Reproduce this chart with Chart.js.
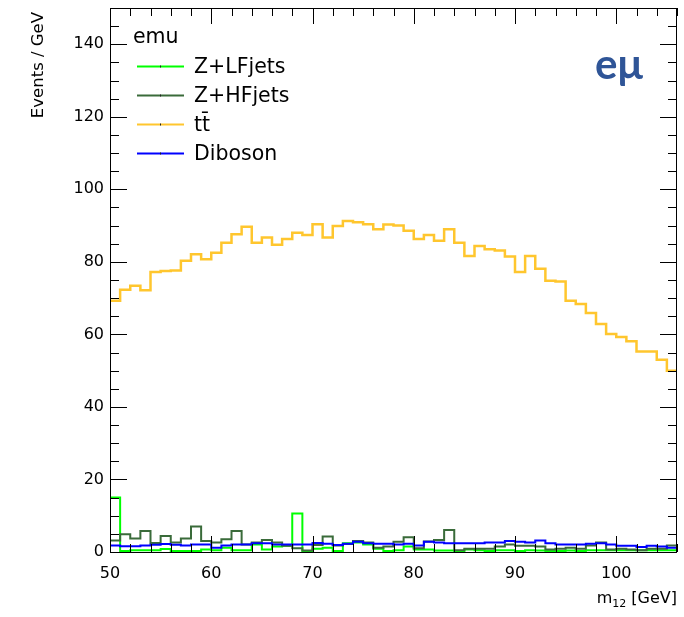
<!DOCTYPE html>
<html><head><meta charset="utf-8">
<script src="https://cdn.jsdelivr.net/npm/chart.js@4/dist/chart.umd.min.js"></script>
<style>html,body{margin:0;padding:0;background:#fff}#wrap{width:684px;height:617px;position:relative}canvas{display:block}</style>
</head><body><div id="wrap"><canvas id="c" width="684" height="617"></canvas></div>
<script>
// Bin lower edges (1 GeV bins) and upper limit of the last bin
const binEdges = [50,51,52,53,54,55,56,57,58,59,60,61,62,63,64,65,66,67,68,69,70,71,72,73,74,75,76,77,78,79,80,81,82,83,84,85,86,87,88,89,90,91,92,93,94,95,96,97,98,99,100,101,102,103,104,105];
const xUpper = 106;

const zLF = [15.0,0.3,0.5,0.5,0.5,0.8,0.3,0.3,0.3,0.7,
  0.5,1.2,0.5,0.5,2.1,0.7,1.5,1.7,10.6,0.3,
  0.9,1.2,0.3,2.4,2.6,2.1,0.9,0.3,0.5,1.5,
  0.7,0.7,0.4,0.4,0.3,0.7,0.5,0.3,0.5,0.5,
  0.3,0.5,0.4,0.3,0.3,0.4,0.3,0.5,0.5,0.5,
  0.5,0.5,0.5,0.5,0.5,0.5];
const zHF = [3.2,4.9,3.7,5.8,2.5,4.4,2.6,3.7,7.0,3.0,
  2.6,3.5,5.8,2.1,2.6,3.3,2.6,1.7,1.0,0.4,
  1.9,4.3,1.8,2.2,3.0,2.6,1.2,1.5,2.8,4.1,
  1.0,2.9,3.3,6.1,0.5,0.9,0.9,0.9,1.5,2.1,
  1.7,1.7,1.5,0.7,0.9,1.2,0.9,1.8,2.6,0.7,
  0.9,0.7,0.5,0.9,0.9,1.8];
const ttbar = [69.3,72.3,73.4,72.2,77.2,77.5,77.6,80.3,82.1,80.7,
  82.5,85.3,87.6,89.7,85.3,86.7,84.7,86.3,88.0,87.4,
  90.4,86.7,89.9,91.3,90.9,90.4,89.0,90.3,90.0,88.6,
  86.3,87.4,85.8,89.0,85.3,81.6,84.4,83.5,83.1,81.5,
  77.2,81.6,78.1,74.8,74.6,69.3,68.4,65.9,62.9,60.1,
  59.3,58.1,55.3,55.3,53.0,50.0];
const diboson = [1.8,1.6,1.6,1.8,2.0,2.2,2.0,1.8,2.1,2.1,
  1.2,1.8,2.1,2.1,2.4,2.4,2.1,2.1,2.1,2.1,
  2.5,2.3,1.9,2.3,2.8,2.4,2.3,2.3,2.1,2.3,
  1.8,2.8,2.6,2.4,2.4,2.4,2.4,2.6,2.6,3.0,
  2.8,2.6,3.2,2.4,2.1,2.1,2.1,2.3,2.4,2.1,
  1.7,1.7,1.4,1.7,1.5,1.2];

const xTickLabels = [50,60,70,80,90,100];
const yTickLabels = [0,20,40,60,80,100,120,140];
const seriesNames = ['Z+LFjets','Z+HFjets','tt\u0304','Diboson'];
const seriesColors = ['#00ff00','#3a6b3a','#ffc62e','#0000ff'];
const legendHeader = 'emu';
const channelLabel = 'e\u03bc';

function steps(vals){
  return binEdges.map((e,i)=>({x:e,y:vals[i]})).concat([{x:xUpper,y:vals[vals.length-1]}]);
}
const FONT = 'DejaVu Sans';

const rootPlugin = {
  id:'rootPlugin',
  afterDatasetsDraw(chart){
    const ctx = chart.ctx, a = chart.chartArea, xs = chart.scales.x, ys = chart.scales.y;
    ctx.save();
    ctx.strokeStyle = '#000'; ctx.lineWidth = 1;
    ctx.strokeRect(Math.round(a.left)+0.5, Math.round(a.top)+0.5, Math.round(a.right-a.left)-1, Math.round(a.bottom-a.top));
    ctx.beginPath();
    for(let v=50; v<=106; v+=2){
      const px = Math.round(xs.getPixelForValue(v))+0.5;
      const len = (v%10===0)?16:8;
      ctx.moveTo(px, a.bottom); ctx.lineTo(px, a.bottom-len);
      ctx.moveTo(px, a.top); ctx.lineTo(px, a.top+len);
    }
    for(let v=0; v<=150; v+=5){
      const py = Math.round(ys.getPixelForValue(v))+0.5;
      const len = (v%20===0)?17:9;
      ctx.moveTo(a.left, py); ctx.lineTo(a.left+len, py);
      ctx.moveTo(a.right, py); ctx.lineTo(a.right-len, py);
    }
    ctx.stroke();
    ctx.restore();
  },
  afterDraw(chart){
    const ctx = chart.ctx;
    ctx.save();
    ctx.fillStyle = '#000';
    ctx.font = '20.5px "'+FONT+'"';
    ctx.textAlign='left'; ctx.textBaseline='alphabetic';
    ctx.fillText(legendHeader, 133, 43);
    seriesNames.forEach((n,i)=>{
      const by = 72.5 + 29*i;
      ctx.strokeStyle = seriesColors[i]; ctx.lineWidth = 2;
      ctx.beginPath(); ctx.moveTo(137, by-6); ctx.lineTo(184, by-6); ctx.stroke();
      ctx.fillStyle='#222'; ctx.fillRect(160, by-7, 1, 2);
      ctx.fillStyle='#000';
      ctx.fillText(n, 194, by);
    });
    ctx.save();
    ctx.translate(42.5, 12);
    ctx.rotate(-Math.PI/2);
    ctx.font = '16.5px "'+FONT+'"';
    ctx.textAlign='right';
    ctx.fillText('Events / GeV', 0, 0);
    ctx.restore();
    const t1='m', t2='12', t3=' [GeV]';
    ctx.font = '16px "'+FONT+'"'; const w1 = ctx.measureText(t1).width, w3 = ctx.measureText(t3).width;
    ctx.font = '11px "'+FONT+'"'; const w2 = ctx.measureText(t2).width;
    const x0 = 677 - (w1+w2+w3);
    ctx.font = '16px "'+FONT+'"'; ctx.fillText(t1, x0, 603);
    ctx.font = '11px "'+FONT+'"'; ctx.fillText(t2, x0+w1, 607);
    ctx.font = '16px "'+FONT+'"'; ctx.fillText(t3, x0+w1+w2, 603);
    ctx.font = 'bold 42px Lato';
    ctx.fillStyle = '#2f5597';
    ctx.fillText(channelLabel, 595, 79);
    ctx.restore();
  }
};

const mk = (label, vals, color, order, width) => ({
  label, data: steps(vals), borderColor: color, backgroundColor: color,
  borderWidth: width, stepped: 'before', pointRadius: 0, fill: false, order
});

new Chart(document.getElementById('c'), {
  type: 'line',
  data: { datasets: [
    mk(seriesNames[0], zLF, seriesColors[0], 3, 2),
    mk(seriesNames[1], zHF, seriesColors[1], 2, 2),
    mk(seriesNames[2], ttbar, seriesColors[2], 1, 2.5),
    mk(seriesNames[3], diboson, seriesColors[3], 0, 2)
  ]},
  options: {
    responsive: false, animation: false, devicePixelRatio: 1,
    layout: { padding: { top: 8, right: 7, left: 0, bottom: 0 } },
    plugins: { legend: { display: false }, tooltip: { enabled: false } },
    scales: {
      x: { type: 'linear', min: 50, max: 106,
        afterBuildTicks: s => { s.ticks = xTickLabels.map(v=>({value:v})); },
        afterFit: s => { s.height = 65; s.paddingLeft = 0; s.paddingRight = 0; },
        ticks: { font: { family: FONT, size: 16 }, color: '#000', padding: 12, maxRotation: 0, autoSkip: false },
        grid: { display: false, drawTicks: false }, border: { display: false } },
      y: { type: 'linear', min: 0, max: 150,
        afterBuildTicks: s => { s.ticks = yTickLabels.map(v=>({value:v})); },
        afterFit: s => { s.width = 110; s.paddingTop = 0; s.paddingBottom = 0; },
        ticks: { font: { family: FONT, size: 16 }, color: '#000', padding: 6 },
        grid: { display: false, drawTicks: false }, border: { display: false } }
    }
  },
  plugins: [rootPlugin]
});
</script></body></html>
